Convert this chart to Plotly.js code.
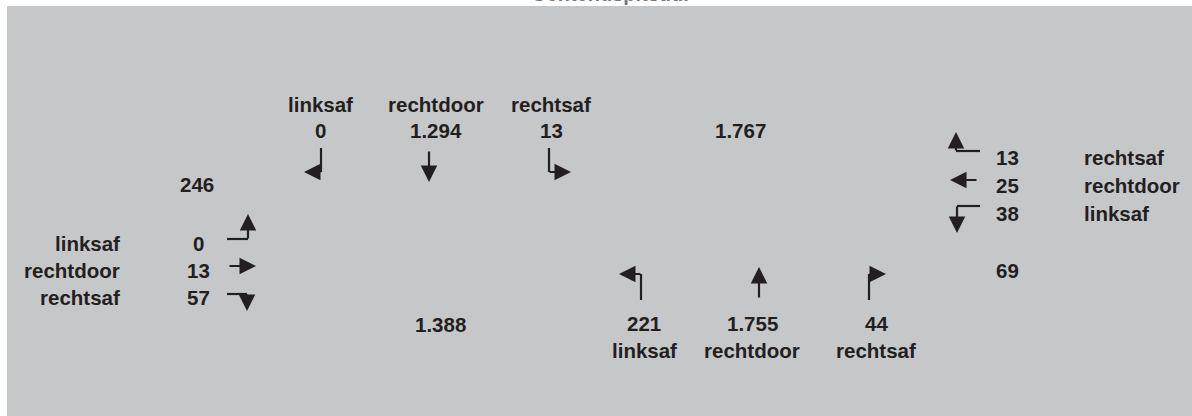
<!DOCTYPE html>
<html>
<head>
<meta charset="utf-8">
<script src="https://cdn.plot.ly/plotly-3.0.1.min.js"></script>
<style>html,body{margin:0;padding:0;background:#fff;}#chart{width:1192px;height:416px;}</style>
</head>
<body>
<div id="chart"></div>
<script>
// ---- data ----
const titleText = 'Ochtendspitsuur';
const northLabels = ['linksaf', 'rechtdoor', 'rechtsaf'];
const northValues = [0, 1294, 13];
const northOut = 1767;
const westLabels = ['linksaf', 'rechtdoor', 'rechtsaf'];
const westValues = [0, 13, 57];
const westOut = 246;
const eastLabels = ['rechtsaf', 'rechtdoor', 'linksaf'];
const eastValues = [13, 25, 38];
const eastOut = 69;
const southLabels = ['linksaf', 'rechtdoor', 'rechtsaf'];
const southValues = [221, 1755, 44];
const southOut = 1388;

// ---- layout helpers ----
const INK = '#231f20';
const FONT = {family: '"Liberation Sans", Arial, sans-serif', size: 20.5, color: INK};
const fmt = n => String(n).replace(/\B(?=(\d{3})+(?!\d))/g, '.');
const txt = (x, y, text, xanchor) => ({x, y, xref: 'x', yref: 'y', text: '<b>' + text + '</b>', showarrow: false,
  xanchor: xanchor || 'center', yanchor: 'middle', font: FONT});
const arrow = (tx, ty, fx, fy) => ({x: tx, y: ty, ax: fx, ay: fy, xref: 'x', yref: 'y', axref: 'x', ayref: 'y',
  text: '', showarrow: true, arrowhead: 2, arrowsize: 1.5, arrowwidth: 2.2, arrowcolor: INK, standoff: 0, startstandoff: 0});
const seg = (x0, y0, x1, y1) => ({type: 'line', xref: 'x', yref: 'y', x0, y0, x1, y1, line: {color: INK, width: 2.2}});

const ann = [];
const shapes = [];

// north approach (top)
const northX = [320, 436, 551];
northLabels.forEach((l, i) => { ann.push(txt(northX[i], 104, l)); ann.push(txt(northX[i], 130, fmt(northValues[i]))); });
ann.push(txt(740, 130, fmt(northOut)));
shapes.push(seg(321, 148, 321, 172)); ann.push(arrow(304, 172, 322, 172));
ann.push(arrow(429, 182, 429, 150));
shapes.push(seg(549, 148, 549, 172)); ann.push(arrow(571, 172, 548, 172));

// west approach (left)
const westY = [243, 270, 297];
westLabels.forEach((l, i) => { ann.push(txt(122, westY[i], l, 'right')); ann.push(txt(198, westY[i], fmt(westValues[i]))); });
ann.push(txt(197, 184, fmt(westOut)));
shapes.push(seg(227, 239, 248, 239)); ann.push(arrow(248, 214, 248, 240));
ann.push(arrow(256, 266, 228, 266));
shapes.push(seg(227, 294, 247, 294)); ann.push(arrow(247, 311, 247, 293));

// east approach (right)
const eastY = [157, 185, 213];
eastLabels.forEach((l, i) => { ann.push(txt(1007, eastY[i], fmt(eastValues[i]))); ann.push(txt(1082, eastY[i], l, 'left')); });
ann.push(txt(1007, 270, fmt(eastOut)));
shapes.push(seg(980, 151, 956, 151)); ann.push(arrow(956, 132, 956, 152));
ann.push(arrow(950, 180, 978, 180));
shapes.push(seg(980, 206, 957, 206)); ann.push(arrow(957, 233, 957, 205));

// south approach (bottom)
const southX = [644, 752, 876];
southLabels.forEach((l, i) => { ann.push(txt(southX[i], 323, fmt(southValues[i]))); ann.push(txt(southX[i], 350, l)); });
ann.push(txt(440, 324, fmt(southOut)));
shapes.push(seg(641, 300, 641, 274)); ann.push(arrow(619, 274, 642, 274));
ann.push(arrow(759, 267, 759, 299));
shapes.push(seg(869, 300, 869, 274)); ann.push(arrow(886, 274, 868, 274));

// title, cut off at the very top as in the reference
ann.push({x: 611, y: 1, xref: 'x', yref: 'paper', text: '<b>' + titleText + '</b>', showarrow: false,
  xanchor: 'center', yanchor: 'bottom', yshift: -1.5, font: {family: FONT.family, size: 20, color: '#777'}});

const axis = {showgrid: false, zeroline: false, showticklabels: false, ticks: '', showline: false, fixedrange: true};
const layout = {
  width: 1192, height: 416,
  margin: {l: 7, r: 0, t: 6, b: 0, pad: 0},
  paper_bgcolor: '#ffffff', plot_bgcolor: '#c6c7c9',
  xaxis: Object.assign({range: [7, 1192]}, axis),
  yaxis: Object.assign({range: [416, 6]}, axis),
  showlegend: false,
  annotations: ann,
  shapes: shapes
};
Plotly.newPlot('chart', [{x: [], y: [], type: 'scatter', mode: 'markers', hoverinfo: 'skip'}], layout, {displayModeBar: false, staticPlot: true});
</script>
</body>
</html>
